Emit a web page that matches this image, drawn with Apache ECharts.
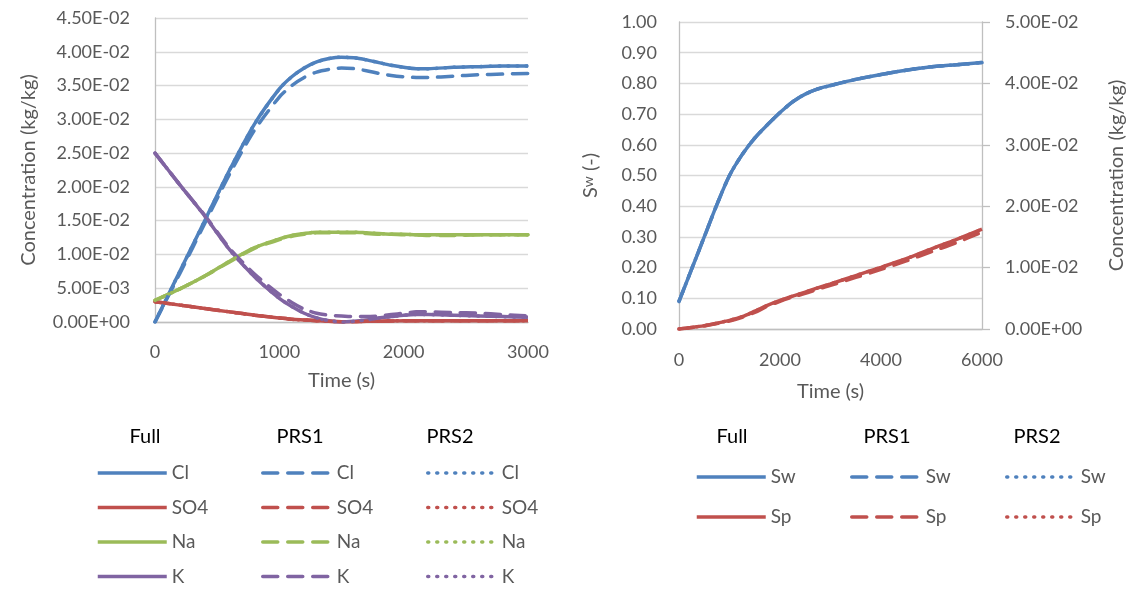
<!DOCTYPE html>
<html>
<head>
<meta charset="utf-8">
<script src="https://cdn.jsdelivr.net/npm/echarts@6/dist/echarts.min.js"></script>
<style>
html,body{margin:0;padding:0;background:#fff;}
#c{width:1130px;height:592px;}
</style>
</head>
<body>
<div id="c"></div>
<script>
// ---------- data ----------
const tLeft = [0,200,400,600,800,1000,1100,1200,1300,1400,1500,1600,1700,1800,1900,2000,2100,2200,2400,2600,2800,3000];
const clFull  = [0,0.0075,0.0150,0.0225,0.0293,0.0345,0.0363,0.0376,0.0385,0.0390,0.0392,0.0391,0.0388,0.0384,0.0380,0.0377,0.0375,0.0375,0.0377,0.0378,0.0379,0.0379];
const clPRS1  = [0,0.0072,0.0146,0.0219,0.0284,0.0333,0.0350,0.0362,0.0370,0.0374,0.0376,0.0375,0.0372,0.0368,0.0365,0.0363,0.0362,0.0362,0.0364,0.0366,0.0367,0.0368];
const clPRS2  = [0,0.0075,0.0150,0.0225,0.0293,0.0345,0.0363,0.0376,0.0385,0.0390,0.0392,0.0391,0.0388,0.0384,0.0380,0.0377,0.0375,0.0375,0.0377,0.0378,0.0379,0.0379];
const so4Full = [0.0030,0.0025,0.0020,0.0015,0.0010,0.0006,0.0004,0.0003,0.0002,0.0001,0.00005,0.00005,0.0001,0.0001,0.00015,0.0002,0.0002,0.0002,0.0002,0.0002,0.0002,0.0002];
const so4PRS1 = [0.0030,0.0025,0.0020,0.0015,0.0010,0.0006,0.0004,0.0003,0.0002,0.0001,0.00005,0.00005,0.0001,0.0001,0.00015,0.0002,0.0002,0.0002,0.0002,0.0002,0.0002,0.0002];
const so4PRS2 = [0.0030,0.0025,0.0020,0.0015,0.0010,0.0006,0.0004,0.0003,0.0002,0.0001,0.00005,0.00005,0.0001,0.0001,0.00015,0.0002,0.0002,0.0002,0.0002,0.0002,0.0002,0.0002];
const naFull  = [0.0032,0.0049,0.0068,0.0090,0.0110,0.0123,0.0128,0.0131,0.0133,0.0133,0.0133,0.0133,0.0132,0.0131,0.0130,0.0130,0.0129,0.0129,0.0129,0.0129,0.0129,0.0129];
const naPRS1  = [0.0032,0.0049,0.0068,0.0089,0.0109,0.0122,0.0127,0.0130,0.0132,0.0132,0.0132,0.0132,0.0131,0.0130,0.0130,0.0129,0.0129,0.0128,0.0128,0.0129,0.0129,0.0129];
const naPRS2  = [0.0032,0.0049,0.0068,0.0090,0.0110,0.0123,0.0128,0.0131,0.0133,0.0133,0.0133,0.0133,0.0132,0.0131,0.0130,0.0130,0.0129,0.0129,0.0129,0.0129,0.0129,0.0129];
const kFull   = [0.0250,0.0203,0.0157,0.0107,0.0067,0.0035,0.0023,0.0013,0.0006,0.0002,0.0000,0.0001,0.0003,0.0006,0.0008,0.0010,0.0011,0.0011,0.0010,0.0009,0.0008,0.0007];
const kPRS1   = [0.0250,0.0203,0.0158,0.0109,0.0071,0.0041,0.0029,0.0019,0.0013,0.0010,0.0009,0.0008,0.0008,0.0009,0.0011,0.0013,0.0015,0.0015,0.0014,0.0013,0.0011,0.0009];
const kPRS2   = [0.0250,0.0203,0.0157,0.0107,0.0067,0.0035,0.0023,0.0013,0.0006,0.0002,0.0000,0.0001,0.0003,0.0006,0.0008,0.0010,0.0011,0.0011,0.0010,0.0009,0.0008,0.0007];

const tRight = [0,250,500,750,1000,1250,1500,1750,2000,2250,2500,2750,3000,3500,4000,4500,5000,5500,6000];
const swFull = [0.09,0.195,0.30,0.405,0.50,0.568,0.622,0.665,0.705,0.74,0.765,0.782,0.793,0.813,0.829,0.843,0.854,0.861,0.868];
const swPRS1 = [0.09,0.195,0.30,0.405,0.50,0.568,0.622,0.665,0.705,0.74,0.765,0.782,0.793,0.813,0.829,0.843,0.854,0.861,0.868];
const swPRS2 = [0.09,0.195,0.30,0.405,0.50,0.568,0.622,0.665,0.705,0.74,0.765,0.782,0.793,0.813,0.829,0.843,0.854,0.861,0.868];
const spFull = [0,0.00025,0.00055,0.00095,0.0014,0.0020,0.0029,0.00385,0.00465,0.00535,0.0060,0.0067,0.00735,0.0087,0.01005,0.01145,0.01305,0.0146,0.01625];
const spPRS1 = [0,0.00025,0.0005,0.0009,0.0013,0.0019,0.0027,0.0037,0.0045,0.0052,0.0058,0.0065,0.0071,0.0084,0.0097,0.0111,0.0126,0.0141,0.0158];
const spPRS2 = [0,0.00025,0.00055,0.00095,0.0014,0.0020,0.0029,0.00385,0.00465,0.00535,0.0060,0.0067,0.00735,0.0087,0.01005,0.01145,0.01305,0.0146,0.01625];

const cases = ['Full','PRS1','PRS2'];
const speciesLeft = ['Cl','SO4','Na','K'];
const speciesRight = ['Sw','Sp'];

// ---------- styling ----------
const FONT = 'Lato';
const GRAY = '#595959';
const colors = {Cl:'#4F81BD', SO4:'#C0504D', Na:'#9BBB59', K:'#8064A2', Sw:'#4F81BD', Sp:'#C0504D'};
const dashFor = {Full:'solid', PRS1:[15,10], PRS2:[1,8]};
const capFor = {Full:'butt', PRS1:'round', PRS2:'round'};

function sci(v){
  if (Math.abs(v) < 1e-12) return '0.00E+00';
  let e = Math.floor(Math.log10(Math.abs(v)) + 1e-9);
  let m = v / Math.pow(10, e);
  if (Math.abs(m) >= 9.995) { m /= 10; e++; }
  return m.toFixed(2) + 'E' + (e < 0 ? '-' : '+') + String(Math.abs(e)).padStart(2,'0');
}
const zip = (xs, ys) => xs.map((x,i)=>[x, ys[i]]);

const leftData = {
  Full: {Cl:clFull, SO4:so4Full, Na:naFull, K:kFull},
  PRS1: {Cl:clPRS1, SO4:so4PRS1, Na:naPRS1, K:kPRS1},
  PRS2: {Cl:clPRS2, SO4:so4PRS2, Na:naPRS2, K:kPRS2}
};
const rightData = {
  Full: {Sw:swFull, Sp:spFull},
  PRS1: {Sw:swPRS1, Sp:spPRS1},
  PRS2: {Sw:swPRS2, Sp:spPRS2}
};

const series = [];
cases.forEach(c => {
  speciesLeft.forEach(s => {
    series.push({
      name: c + ' ' + s, type:'line', xAxisIndex:0, yAxisIndex:0,
      data: zip(tLeft, leftData[c][s]), symbol:'none', smooth:0.25,
      lineStyle:{color:colors[s], width:3.5, type:dashFor[c], cap:capFor[c]},
      itemStyle:{color:colors[s]}, z: 2
    });
  });
});
cases.forEach(c => {
  speciesRight.forEach(s => {
    series.push({
      name: c + ' ' + s + ' ', type:'line', xAxisIndex:1, yAxisIndex: s === 'Sw' ? 1 : 2,
      data: zip(tRight, rightData[c][s]), symbol:'none', smooth:0.3,
      lineStyle:{color:colors[s], width:3.5, type:dashFor[c], cap:capFor[c]},
      itemStyle:{color:colors[s]}, z: 2
    });
  });
});

function mkLegend(names, left, top, gap){
  return {
    data: names, orient:'vertical', left:left, top:top, padding:0,
    itemWidth:69, itemHeight:20, itemGap:gap, selectedMode:false,
    formatter: n => n.trim().split(' ')[1],
    itemStyle:{opacity:0},
    lineStyle:{width:3.5},
    textStyle:{color:GRAY, fontSize:19, fontFamily:FONT, lineHeight:20}
  };
}
const legendLeftX = [96, 261, 426];
const legendRightX = [695, 850, 1005];
const legends = [];
cases.forEach((c,i) => legends.push(mkLegend(speciesLeft.map(s => c + ' ' + s), legendLeftX[i], 463, 14.5)));
cases.forEach((c,i) => legends.push(mkLegend(speciesRight.map(s => c + ' ' + s + ' '), legendRightX[i], 467, 20)));

const headerLeftX = [145, 300, 450];
const headerRightX = [732, 887, 1037];
const graphics = [];
cases.forEach((c,i) => {
  graphics.push({type:'text', x:headerLeftX[i], y:437, style:{text:c, align:'center', verticalAlign:'middle', fontSize:20, fontFamily:FONT, fill:'#000'}});
  graphics.push({type:'text', x:headerRightX[i], y:437, style:{text:c, align:'center', verticalAlign:'middle', fontSize:20, fontFamily:FONT, fill:'#000'}});
});

const axisLineStyle = {show:true, lineStyle:{color:'#BFBFBF', width:1.3}};
const splitLineStyle = {show:true, lineStyle:{color:'#D9D9D9', width:1.3}};
const labelStyle = {color:GRAY, fontSize:18, fontFamily:FONT};
const nameStyle = {color:GRAY, fontSize:20, fontFamily:FONT};
const plain = v => String(v);

const option = {
  animation:false,
  backgroundColor:'#fff',
  grid:[
    {left:155, top:18, width:373, height:304},
    {left:679, top:22, width:303, height:307}
  ],
  xAxis:[
    {type:'value', gridIndex:0, min:0, max:3000, interval:1000,
     axisLine:axisLineStyle, axisTick:{show:false}, splitLine:{show:false},
     axisLabel:Object.assign({margin:21, formatter:plain}, labelStyle),
     name:'Time (s)', nameLocation:'middle', nameGap:49, nameTextStyle:nameStyle},
    {type:'value', gridIndex:1, min:0, max:6000, interval:2000,
     axisLine:axisLineStyle, axisTick:{show:false}, splitLine:{show:false},
     axisLabel:Object.assign({margin:22, formatter:plain}, labelStyle),
     name:'Time (s)', nameLocation:'middle', nameGap:53, nameTextStyle:nameStyle}
  ],
  yAxis:[
    {type:'value', gridIndex:0, min:0, max:0.045, interval:0.005,
     axisLine:axisLineStyle, axisTick:{show:false}, splitLine:splitLineStyle,
     axisLabel:Object.assign({margin:25, formatter:sci}, labelStyle),
     name:'Concentration (kg/kg)', nameLocation:'middle', nameRotate:90, nameGap:116, nameTextStyle:nameStyle},
    {type:'value', gridIndex:1, min:0, max:1, interval:0.1,
     axisLine:axisLineStyle, axisTick:{show:false}, splitLine:splitLineStyle,
     axisLabel:Object.assign({margin:22, formatter:v => v.toFixed(2)}, labelStyle),
     name:'{s|S}{sub|w}{s| (-)}', nameLocation:'middle', nameRotate:90, nameGap:62,
     nameTextStyle:Object.assign({}, nameStyle, {rich:{
       s:{fontSize:20, fontFamily:FONT, color:GRAY, lineHeight:22, verticalAlign:'top'},
       sub:{fontSize:14, fontFamily:FONT, color:GRAY, lineHeight:36, verticalAlign:'top'}
     }})},
    {type:'value', gridIndex:1, position:'right', min:0, max:0.05, interval:0.01,
     axisLine:axisLineStyle, axisTick:{show:true, length:8, lineStyle:{color:'#BFBFBF', width:1.3}}, splitLine:{show:false},
     axisLabel:Object.assign({margin:23, formatter:sci}, labelStyle),
     name:'Concentration (kg/kg)', nameLocation:'middle', nameRotate:90, nameGap:125, nameTextStyle:nameStyle}
  ],
  legend: legends,
  graphic: graphics,
  series: series
};

const chart = echarts.init(document.getElementById('c'), null, {renderer:'canvas'});
chart.setOption(option);
</script>
</body>
</html>
